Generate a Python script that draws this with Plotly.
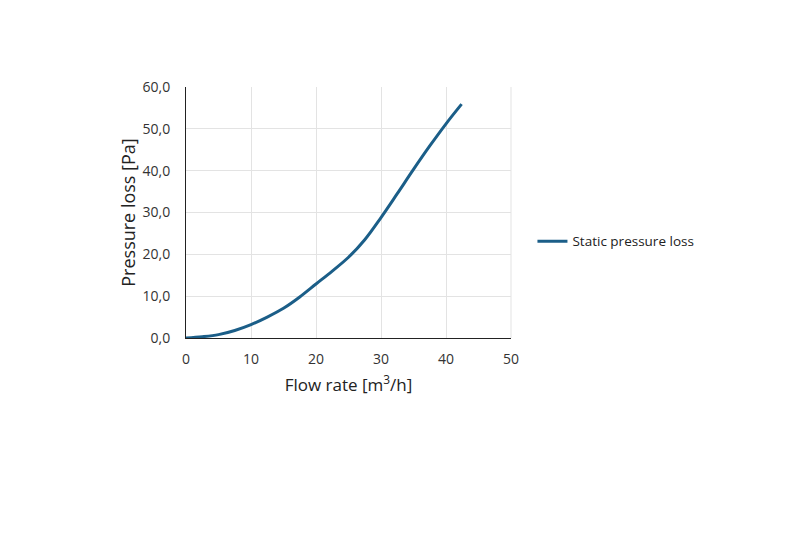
import plotly.graph_objects as go

# values
flow_rate = [0, 2.5, 5, 7.5, 10, 12.5, 15, 17.5, 20, 22.5, 25, 27.5, 30, 32.5, 35, 37.5, 40, 42.4]
pressure_loss = [0, 0.3, 0.8, 1.8, 3.2, 5.0, 7.1, 9.8, 12.9, 16.0, 19.3, 23.5, 28.8, 34.5, 40.3, 45.9, 51.2, 55.9]

x_ticks = [0, 10, 20, 30, 40, 50]
y_ticks = [0, 10, 20, 30, 40, 50, 60]

line_color = '#1b5e88'
font_family = 'Open Sans, Noto Sans, sans-serif'

fig = go.Figure()
fig.add_trace(go.Scatter(x=flow_rate, y=pressure_loss, mode='lines', name='Static pressure loss',
                         line=dict(color=line_color, width=3, shape='spline')))

# the page body adds an 8px offset, margins account for it
fig.update_layout(
    width=800, height=533,
    margin=dict(l=178, r=297, t=79, b=203, autoexpand=False),
    paper_bgcolor='white', plot_bgcolor='white',
    separators=',.',
    font=dict(family=font_family, color='#333333'),
    showlegend=True,
    legend=dict(x=1.066, y=0.385, xanchor='left', yanchor='middle',
                font=dict(size=13.5, color='#222222'), bgcolor='rgba(0,0,0,0)'),
)
fig.update_xaxes(range=[0, 50], tickvals=x_ticks, showgrid=True, gridcolor='#e3e3e3', gridwidth=1,
                 zeroline=False, showline=True, linecolor='#222222', linewidth=1,
                 ticks='', ticklabelstandoff=8, tickfont=dict(size=14, color='#333333'),
                 title=dict(text='Flow rate [m<sup>3</sup>/h]', font=dict(size=17, color='#222222'), standoff=12))
fig.update_yaxes(range=[0, 60], tickvals=y_ticks, tickformat='.1f', showgrid=True, gridcolor='#e3e3e3',
                 gridwidth=1, zeroline=False, showline=True, linecolor='#222222', linewidth=1,
                 ticks='', ticklabelstandoff=12, tickfont=dict(size=14, color='#333333'),
                 title=dict(text='Pressure loss [Pa]', font=dict(size=18, color='#222222'), standoff=2))
# close the grid box on the right
fig.add_shape(type='line', xref='paper', yref='paper', x0=1, x1=1, y0=0, y1=1,
              line=dict(color='#e3e3e3', width=1))

fig.write_html("out.html")
